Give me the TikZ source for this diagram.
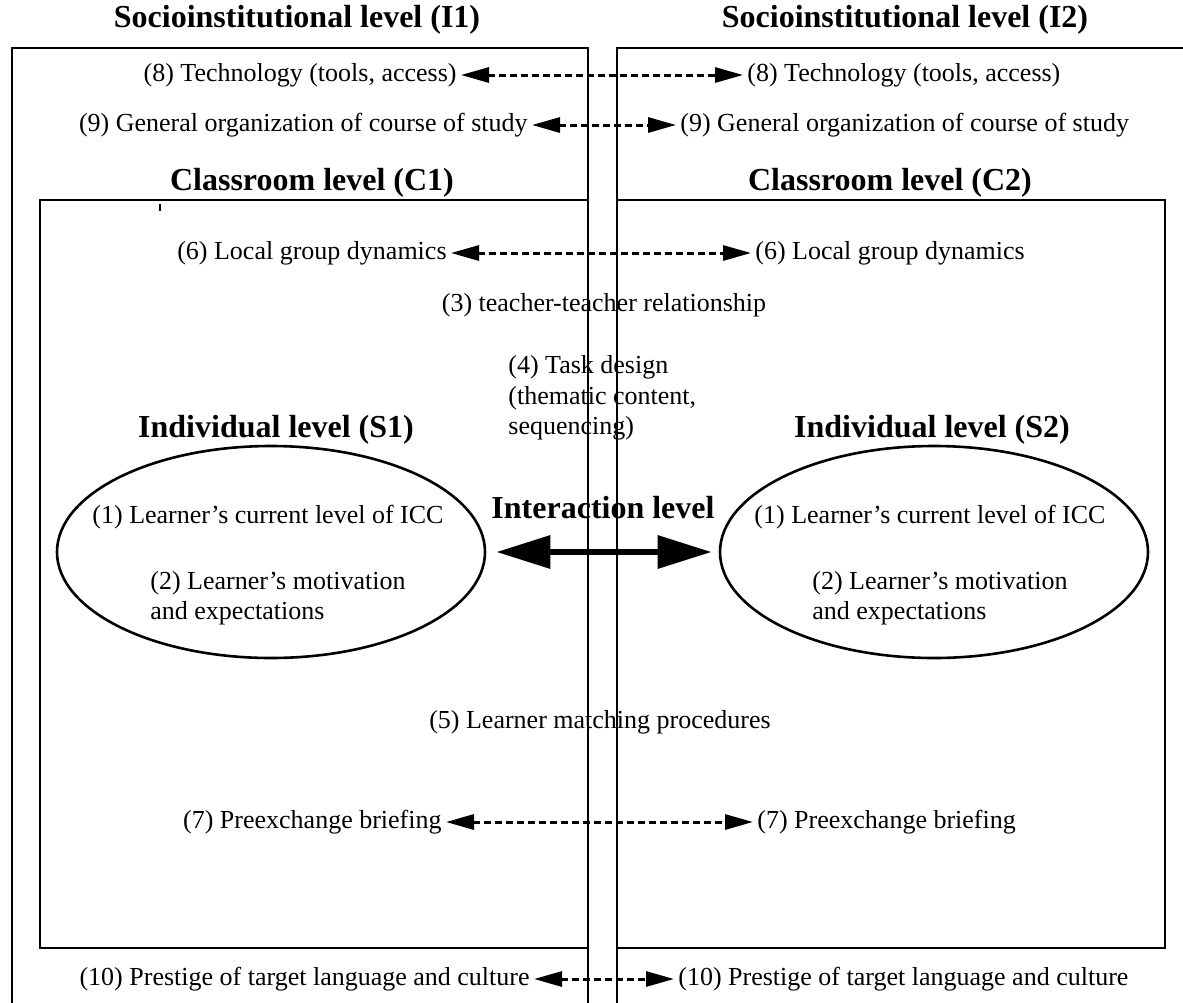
\documentclass[tikz,border=0pt]{standalone}
\usepackage{fontspec}
\setmainfont{Liberation Serif}
\usetikzlibrary{arrows.meta,shapes.geometric}

\begin{document}
\begin{tikzpicture}[x=0.5pt,y=-0.5pt,
  frame/.style={line width=1.35pt},
  txt/.style={font=\fontsize{13}{15.25}\selectfont, inner sep=0pt, inner xsep=2pt},
  ttl/.style={font=\fontsize{16}{19}\selectfont\bfseries, inner sep=0pt},
  dasharrow/.style={line width=1.5pt, dash pattern=on 3.5pt off 2pt, {Triangle[length=14pt,width=7.5pt]}-{Triangle[length=14pt,width=7.5pt]}},
  bigarrow/.style={line width=3.2pt, {Triangle[length=27pt,width=16pt]}-{Triangle[length=27pt,width=16pt]}},
  person/.style={ellipse, draw, line width=1.3pt, minimum width=214pt, minimum height=106pt, inner sep=0pt}
]
\useasboundingbox (0,0) rectangle (1183,1002);
\fill[white] (0,0) rectangle (1183,1002);

% socioinstitutional frames (open at the bottom)
\draw[frame] (12,1010) -- (12,48) -- (588,48) -- (588,1010);
\draw[frame] (617,1010) -- (617,48) -- (1195,48);
% classroom frames
\draw[frame] (40,200) rectangle (588,948);
\draw[frame] (617,200) rectangle (1165,948);
\draw[line width=0.6pt] (160,204) -- (160,211);

% level titles
\node[ttl] (tI1) at (297,20) {Socioinstitutional level (I1)};
\node[ttl] (tI2) at (905,20) {Socioinstitutional level (I2)};
\node[ttl] (tC1) at (312,183) {Classroom level (C1)};
\node[ttl] (tC2) at (890,183) {Classroom level (C2)};
\node[ttl] (tS1) at (276,430) {Individual level (S1)};
\node[ttl] (tS2) at (932,430) {Individual level (S2)};
\node[ttl] (tIA) at (603,508) {Interaction level};

% (8) technology
\node[txt, anchor=east] (l8) at (461,75) {(8) Technology (tools, access)};
\node[txt, anchor=west] (r8) at (743,75) {(8) Technology (tools, access)};
\draw[dasharrow] (l8.east) -- (r8.west);
% (9) course organisation
\node[txt, anchor=east] (l9) at (532,125) {(9) General organization of course of study};
\node[txt, anchor=west] (r9) at (676,125) {(9) General organization of course of study};
\draw[dasharrow] (l9.east) -- (r9.west);
% (6) group dynamics
\node[txt, anchor=east] (l6) at (451,253) {(6) Local group dynamics};
\node[txt, anchor=west] (r6) at (751,253) {(6) Local group dynamics};
\draw[dasharrow] (l6.east) -- (r6.west);
% shared factors
\node[txt] (f3) at (604,305) {(3) teacher-teacher relationship};
\node[txt, anchor=west, align=left] (f4) at (504,398) {(4) Task design\\(thematic content,\\sequencing)};
\node[txt] (f5) at (600,722) {(5) Learner matching procedures};
% (7) briefing
\node[txt, anchor=east] (l7) at (446,822) {(7) Preexchange briefing};
\node[txt, anchor=west] (r7) at (753,822) {(7) Preexchange briefing};
\draw[dasharrow] (l7.east) -- (r7.west);
% (10) prestige
\node[txt, anchor=east] (l10) at (534,979) {(10) Prestige of target language and culture};
\node[txt, anchor=west] (r10) at (674,979) {(10) Prestige of target language and culture};
\draw[dasharrow] (l10.east) -- (r10.west);

% individual learners
\node[person] (S1) at (271,552) {};
\node[person] (S2) at (934,552) {};
\node[txt] (s1a) at (268,517) {(1) Learner's current level of ICC};
\node[txt, anchor=west, align=left] (s1b) at (146,598) {(2) Learner's motivation\\and expectations};
\node[txt] (s2a) at (930,517) {(1) Learner's current level of ICC};
\node[txt, anchor=west, align=left] (s2b) at (808,598) {(2) Learner's motivation\\and expectations};

% interaction between the two learners
\draw[bigarrow] ([xshift=5pt]S1.east) -- ([xshift=-3.5pt]S2.west);
\end{tikzpicture}
\end{document}
